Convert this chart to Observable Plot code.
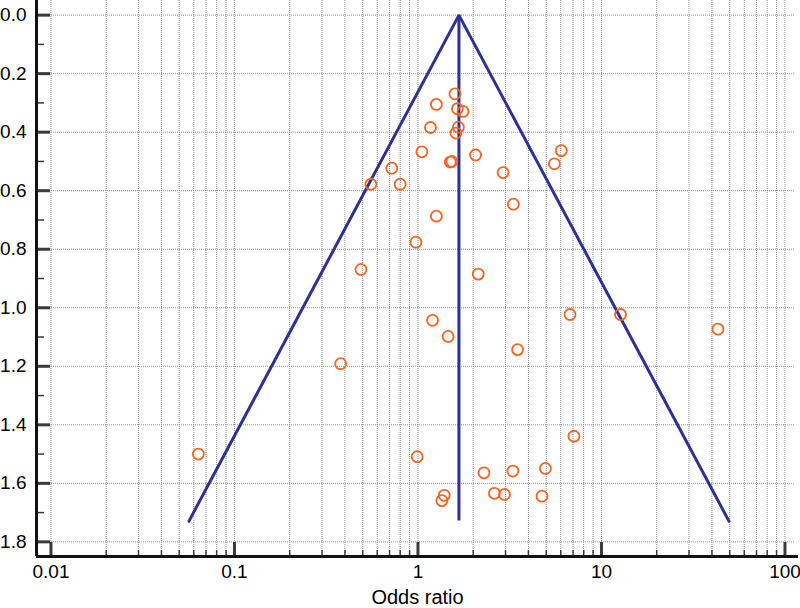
<!DOCTYPE html>
<html><head><meta charset="utf-8">
<script src="https://cdn.jsdelivr.net/npm/d3@7"></script>
<script src="https://cdn.jsdelivr.net/npm/@observablehq/plot@0.6"></script>
<style>html,body{margin:0;padding:0;background:#fff} svg{display:block}</style>
</head><body><div id="chart"></div>
<script>
// Study estimates (odds ratio) and their standard errors
const oddsRatio = [1.59, 1.26, 1.64, 1.76, 1.17, 1.66, 1.61, 1.05, 2.06, 1.50,
  1.53, 0.72, 0.80, 0.554, 2.91, 5.54, 6.04, 3.31, 1.26, 0.975,
  0.489, 2.13, 1.20, 1.46, 3.49, 6.74, 0.379, 12.7, 43.1, 0.0636,
  0.99, 2.29, 3.29, 4.95, 7.08, 2.61, 2.96, 4.74, 1.39, 1.35];
const standardError = [0.269, 0.305, 0.320, 0.329, 0.384, 0.383, 0.403, 0.467, 0.478, 0.502,
  0.500, 0.523, 0.578, 0.578, 0.538, 0.508, 0.463, 0.646, 0.687, 0.776,
  0.869, 0.885, 1.043, 1.098, 1.143, 1.023, 1.191, 1.023, 1.073, 1.500,
  1.509, 1.564, 1.558, 1.549, 1.439, 1.634, 1.638, 1.644, 1.641, 1.659];

// Funnel (pseudo 95% limits) and pooled estimate
const funnelOR = [0.0565, 1.672, 49.5];
const funnelSE = [1.729, 0, 1.729];
const pooledOR = 1.672;
const seMax = 1.729;

// Axes
const xDomain = [0.00834, 118.5];
const yDomain = [-0.05, 1.85];
const xMajor = [0.01, 0.1, 1, 10, 100];
const xTickLabels = ["0.01", "0.1", "1", "10", "100"];
const xMinor = [0.02,0.03,0.04,0.05,0.06,0.07,0.08,0.09,
  0.2,0.3,0.4,0.5,0.6,0.7,0.8,0.9,
  2,3,4,5,6,7,8,9,
  20,30,40,50,60,70,80,90];
const xGrid = [0.01,0.02,0.03,0.04,0.05,0.06,0.07,0.08,0.09,
  0.1,0.2,0.3,0.4,0.5,0.6,0.7,0.8,0.9,
  1,2,3,4,5,6,7,8,9,
  10,20,30,40,50,60,70,80,90,100];
const yMajor = [0, 0.2, 0.4, 0.6, 0.8, 1.0, 1.2, 1.4, 1.6, 1.8];
const yMinor = [0.1, 0.3, 0.5, 0.7, 0.9, 1.1, 1.3, 1.5, 1.7];
const xLabel = "Odds ratio";

const studies = oddsRatio.map((o, i) => ({or: o, se: standardError[i]}));
const funnel = funnelOR.map((o, i) => ({or: o, se: funnelSE[i]}));
const xTicks = xMajor.map((v, i) => ({v, label: xTickLabels[i]}));

const W = 800, H = 608, mL = 36, mR = 2, mT = 0, mB = 52;
const plotW = W - mL - mR, plotH = H - mT - mB;

const gridStyle = {stroke: "#8f8f8f", strokeWidth: 1, strokeDasharray: "1,1"};
const tickColor = "#3a3a3a";
const funnelColor = "#2f3192";
const dotColor = "#f26522";

const chart = Plot.plot({
  width: W, height: H,
  marginLeft: mL, marginRight: mR, marginTop: mT, marginBottom: mB,
  style: {fontFamily: "'Liberation Sans', Arial, sans-serif", fontSize: "19px", color: "#000", background: "#fff", overflow: "visible"},
  x: {type: "log", domain: xDomain, axis: null},
  y: {domain: yDomain, reverse: true, axis: null},
  marks: [
    Plot.tickX(xGrid, {x: d => d, ...gridStyle, insetBottom: 3}),
    Plot.tickY(yMajor, {y: d => d, ...gridStyle, insetLeft: 13, insetRight: 4}),
    Plot.tickY(yMajor, {y: d => d, stroke: tickColor, strokeWidth: 3, insetRight: plotW - 14}),
    Plot.tickY(yMinor, {y: d => d, stroke: tickColor, strokeWidth: 1.5, insetRight: plotW - 8}),
    Plot.tickX(xMajor, {x: d => d, stroke: tickColor, strokeWidth: 3, insetTop: plotH - 14}),
    Plot.tickX(xMinor, {x: d => d, stroke: tickColor, strokeWidth: 1.5, insetTop: plotH - 6}),
    Plot.ruleX([xDomain[0]], {stroke: "#111", strokeWidth: 3}),
    Plot.ruleY([yDomain[1]], {stroke: "#111", strokeWidth: 3}),
    Plot.line(funnel, {x: "or", y: "se", stroke: funnelColor, strokeWidth: 3, strokeLinejoin: "miter"}),
    Plot.ruleX([pooledOR], {y1: 0, y2: seMax, stroke: funnelColor, strokeWidth: 3}),
    Plot.dot(studies, {x: "or", y: "se", r: 5.5, stroke: dotColor, strokeWidth: 1.8, fill: "none"}),
    Plot.text(yMajor, {y: d => d, text: d => d3.format(".1f")(d), frameAnchor: "left", textAnchor: "end", dx: -10, fontSize: 19}),
    Plot.text(xTicks, {x: "v", text: "label", frameAnchor: "bottom", lineAnchor: "top", dy: 8, fontSize: 19}),
    Plot.text([xLabel], {text: d => d, frameAnchor: "bottom", dy: 47, lineAnchor: "bottom", fontSize: 20})
  ]
});
document.getElementById("chart").appendChild(chart);
</script>
</body></html>
